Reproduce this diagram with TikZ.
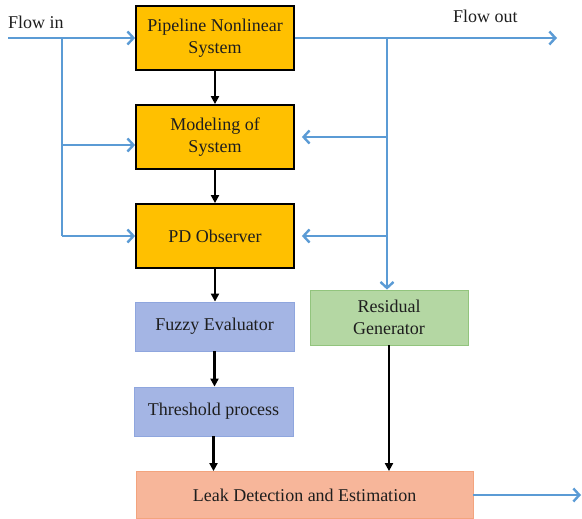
\documentclass[tikz,border=0pt]{standalone}
\usepackage{fontspec}
\setmainfont{Liberation Serif}
\usetikzlibrary{arrows.meta}
\definecolor{BoxOrange}{HTML}{FFC000}
\definecolor{BoxBlue}{HTML}{A4B5E4}
\definecolor{BoxBlueLine}{HTML}{8FA6DE}
\definecolor{BoxGreen}{HTML}{B4D7A3}
\definecolor{BoxGreenLine}{HTML}{92C47D}
\definecolor{BoxSalmon}{HTML}{F7B69A}
\definecolor{BoxSalmonLine}{HTML}{F3A47E}
\definecolor{FlowBlue}{HTML}{5B9BD5}
\definecolor{TextDark}{HTML}{1E1E1E}
\tikzset{
  block/.style={draw, line width=1.8pt, fill=BoxOrange, minimum width=158pt, minimum height=64pt,
    align=center, text=TextDark, font=\fontsize{18}{22}\selectfont, inner sep=0pt},
  softblock/.style={draw, line width=0.8pt, align=center, text=TextDark,
    font=\fontsize{18}{22}\selectfont, inner sep=0pt},
  flow/.style={FlowBlue, line width=2.6pt, -{Straight Barb[length=6pt,width=13pt,line width=2.4pt]}},
  flowline/.style={FlowBlue, line width=2.6pt},
  link/.style={black, line width=2.2pt, -{Triangle[length=8pt,width=8pt]}}
}
\begin{document}
\begin{tikzpicture}[x=1pt,y=-1pt]
\useasboundingbox (0,0) rectangle (582,519);
% main chain
\node[block] (plant) at (215,38) {Pipeline Nonlinear\\System};
\node[block] (model) at (215,137) {Modeling of\\System};
\node[block] (obs) at (215,236) {PD Observer};
\node[softblock, fill=BoxBlue, draw=BoxBlueLine, minimum width=159pt, minimum height=49pt] (fuzzy) at (214.5,326.5) {Fuzzy Evaluator};
\node[softblock, fill=BoxBlue, draw=BoxBlueLine, minimum width=159pt, minimum height=49pt] (thr) at (213.5,411.5) {Threshold process};
\node[softblock, fill=BoxGreen, draw=BoxGreenLine, minimum width=158pt, minimum height=55pt] (res) at (389,317.5) {Residual\\Generator};
\node[softblock, fill=BoxSalmon, draw=BoxSalmonLine, minimum width=337pt, minimum height=47pt] (leak) at (304.5,495) {Leak Detection and Estimation};
% labels
\node[text=TextDark, font=\fontsize{18}{22}\selectfont, anchor=base west, inner sep=0pt] (inlbl) at (8,29) {Flow in};
\node[text=TextDark, font=\fontsize{18}{22}\selectfont, anchor=base west, inner sep=0pt] (outlbl) at (453,23) {Flow out};
% flow in
\coordinate (src) at (8,38);
\coordinate (split) at (62,38);
\coordinate (bot) at (62,236);
\draw[flow] (src) -- (plant.west);
\draw[flowline] (split) -- (bot);
\draw[flow] (split |- 0,145) -- ([yshift=-8pt]model.west);
\draw[flow] (bot) -- (obs.west);
% flow out
\coordinate (sink) at (557,38);
\coordinate (tap) at (387,38);
\draw[flow] (plant.east) -- (sink);
\draw[flow] (tap) -- (tap |- res.north);
\draw[flow, shorten >=7pt] (tap |- model.east) -- (model.east);
\draw[flow, shorten >=7pt] (tap |- obs.east) -- (obs.east);
% black links
\draw[link] (plant) -- (model);
\draw[link] (model) -- (obs);
\draw[link] (obs.south) -- (obs.south |- fuzzy.north);
\draw[link] (fuzzy.south) -- (fuzzy.south |- thr.north);
\draw[link] (thr.south) -- (thr.south |- leak.north);
\draw[link] (res.south) -- (res.south |- leak.north);
% output
\coordinate (result) at (581,495);
\draw[flow] (leak.east) -- (result);
\end{tikzpicture}
\end{document}
